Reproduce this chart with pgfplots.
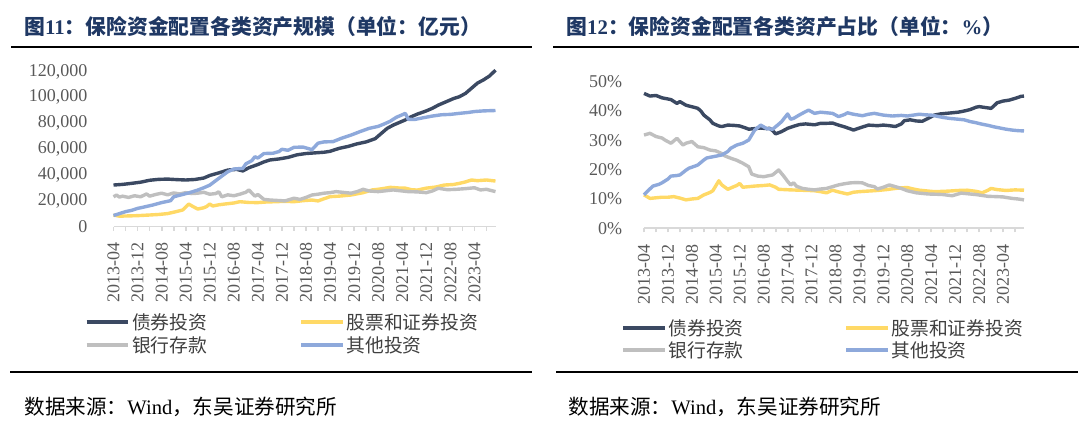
\documentclass[border=0pt]{standalone}
\usepackage{pgfplots}
\pgfplotsset{compat=1.18}
\usepackage{fontspec}
\setmainfont{Liberation Serif}
\newfontfamily\cjk{Noto Sans CJK SC}
\definecolor{cbond}{RGB}{59,73,98}
\definecolor{cstock}{RGB}{255,217,102}
\definecolor{cbank}{RGB}{191,191,191}
\definecolor{cother}{RGB}{142,169,219}
\definecolor{titleblue}{RGB}{31,56,100}
\definecolor{axisgray}{RGB}{217,217,217}
\definecolor{ticktext}{RGB}{89,89,89}
\definecolor{legtext}{RGB}{64,64,64}

\pgfplotsset{
  mystyle/.style={
    anchor=south west, scale only axis, clip=false,
    xmin=0, xmax=127,
    axis x line*=bottom, axis y line*=left,
    axis line style={-, draw=axisgray, line width=0.9pt},
    y axis line style={draw=none},
    xtick={0,8,...,120},
    xticklabels={2013-04,2013-12,2014-08,2015-04,2015-12,2016-08,2017-04,2017-12,2018-08,2019-04,2019-12,2020-08,2021-04,2021-12,2022-08,2023-04},
    minor xtick={4,12,...,124},
    tick align=outside,
    major tick length=2pt, minor tick length=2pt,
    tick style={draw=axisgray, line width=0.9pt},
    ytick style={draw=none},
    /pgf/number format/assume math mode=true,
    tick label style={font=\fontsize{9}{10}\selectfont, text=ticktext},
    xticklabel style={rotate=90, anchor=east, inner sep=0pt},
    yticklabel style={anchor=east, inner sep=0pt},
    xticklabel shift=5.75pt,
    every axis plot/.append style={line width=1.7pt, line join=round, no marks},
  }
}

\begin{document}
\begin{tikzpicture}
\begin{scope}[x=0.5pt,y=-0.5pt]
\useasboundingbox (0,0) rectangle (1080,422);

% ---------- Left panel text ----------
\node[anchor=west, inner sep=0pt, text=titleblue, font=\fontsize{10.4}{12}\selectfont\bfseries] at (24,27)
  {{\cjk\bfseries 图}11{\cjk\bfseries ：保险资金配置各类资产规模（单位：亿元）}};
\draw[line width=1pt] (11,46.7) -- (532,46.7);

\begin{scope}[line width=1.6pt]
\draw[cbond] (86.6,322) -- (128,322);
\draw[cstock] (301,322) -- (343,322);
\draw[cbank] (86.6,345) -- (128,345);
\draw[cother] (301,345) -- (343,345);
\end{scope}
\begin{scope}[every node/.style={anchor=west, inner sep=0pt, text=legtext, font=\fontsize{9.4}{11}\selectfont\cjk}]
\node at (131.6,322) {债券投资};
\node at (346,322) {股票和证券投资};
\node at (131.6,345) {银行存款};
\node at (346,345) {其他投资};
\end{scope}
\draw[line width=1.35pt] (10,372) -- (532,372);
\node[anchor=west, inner sep=0pt, font=\fontsize{10.3}{12}\selectfont] at (24,407)
  {{\cjk 数据来源：}Wind{\cjk ，东吴证券研究所}};

% ---------- Right panel text ----------
\node[anchor=west, inner sep=0pt, text=titleblue, font=\fontsize{10.4}{12}\selectfont\bfseries] at (566,27)
  {{\cjk\bfseries 图}12{\cjk\bfseries ：保险资金配置各类资产占比（单位：}\%{\cjk\bfseries ）}};
\draw[line width=1pt] (553,46.7) -- (1079,46.7);

\begin{scope}[line width=1.6pt]
\draw[cbond] (623,328) -- (665,328);
\draw[cstock] (846,328) -- (888,328);
\draw[cbank] (623,350) -- (665,350);
\draw[cother] (846,350) -- (888,350);
\end{scope}
\begin{scope}[every node/.style={anchor=west, inner sep=0pt, text=legtext, font=\fontsize{9.4}{11}\selectfont\cjk}]
\node at (668,328) {债券投资};
\node at (891,328) {股票和证券投资};
\node at (668,350) {银行存款};
\node at (891,350) {其他投资};
\end{scope}
\draw[line width=1.35pt] (556,372) -- (1078,372);
\node[anchor=west, inner sep=0pt, font=\fontsize{10.3}{12}\selectfont] at (568,407)
  {{\cjk 数据来源：}Wind{\cjk ，东吴证券研究所}};
\end{scope}

% ---------- Left axis ----------
\begin{axis}[mystyle,
  at={(56.75pt,-113.25pt)}, width=191pt, height=80.73pt,
  ymin=0, ymax=125000, ytick={0,20000,...,120000},
  scaled y ticks=false,
  yticklabel style={/pgf/number format/fixed, /pgf/number format/1000 sep={,}},
  yticklabel shift=10.9pt,
]
\addplot[cbond] table {
0 32100
3 32600
6 33400
9 34300
12 35800
15 36500
18 36700
21 36300
24 36000
27 36400
30 37500
32 39500
35 41500
38 43700
41 44200
43 43000
45 45500
48 48000
50 50000
52 51500
55 52300
58 53500
61 55500
64 56500
67 57000
70 57500
72 58200
75 60500
78 62000
81 64000
84 65500
87 68000
89 72000
91 76000
93 78500
95 80500
97 82500
99 85000
101 87000
104 89500
106 91500
108 94000
111 97000
113 99000
115 100500
117 103000
119 107000
121 111000
123 113500
125 116500
127 121000
};
\addplot[cstock] table {
0 8900
2 8000
5 8200
8 8400
12 8900
15 9300
18 10000
21 11600
23 12800
25 17400
26 16000
28 13500
30 14500
31 15500
32 17400
33 15900
35 16800
37 17400
40 18200
42 19200
45 18600
48 18500
51 19000
54 19200
57 19500
60 19200
63 20000
66 20500
68 19800
70 21500
72 23100
75 23500
79 24400
83 26200
86 28300
88 28800
90 29500
92 30300
95 29800
97 29700
99 28500
101 28200
104 29700
107 30500
110 32100
113 32500
115 33400
117 34500
119 36000
121 35500
124 36000
127 35200
};
\addplot[cbank] table {
0 23000
1 24300
2 22800
3 23500
5 22500
7 23800
9 23000
11 25200
12 23500
14 24800
16 25800
18 24500
20 26000
22 25200
24 26200
26 25500
28 25800
30 26500
32 25000
34 25500
35 26900
36 23000
38 24500
40 23800
42 25000
44 26500
45 28300
47 23500
48 24800
50 21000
52 20500
55 20100
57 19800
60 21900
62 21000
64 22500
66 24400
68 25000
70 25800
72 26200
74 27000
76 26500
79 25800
81 27000
83 28800
85 27500
88 27000
91 27800
93 28300
96 27500
98 27000
101 26800
104 26200
106 27500
108 29600
111 28500
114 28800
117 29300
120 30000
122 28300
124 28800
127 27000
};
\addplot[cother] table {
0 8500
2 10000
4 11500
6 12500
8 14000
10 15000
13 16600
16 18500
19 20000
20 23000
22 24200
25 26000
28 28200
30 30000
32 32000
34 35500
36 39000
38 42400
40 44500
43 45000
44 48500
46 51000
47 54000
48 53000
50 56500
53 56700
55 58000
56 59800
58 59000
60 61300
63 61500
66 59500
68 64500
70 65500
73 65700
76 68500
79 70800
82 73500
85 76000
88 77500
90 79400
92 81500
94 84500
96 86500
97 87600
98 83000
100 82800
103 84200
106 85500
109 86500
112 86800
115 87600
118 88300
120 89000
123 89500
127 89800
};
\end{axis}

% ---------- Right axis ----------
\begin{axis}[mystyle,
  at={(322pt,-114.15pt)}, width=190pt, height=73.3pt,
  ymin=0, ymax=50, ytick={0,10,...,50},
  yticklabel={\pgfmathprintnumber{\tick}\%},
  yticklabel shift=8.75pt,
]
\addplot[cbond] table {
0 46.0
2 45.1
4 45.3
6 44.5
7 44.3
9 43.9
11 42.6
12 43.2
14 42.0
15 41.7
17 41.2
18 40.9
19 40.0
20 38.6
22 37.0
23 35.8
25 34.9
26 34.7
28 35.2
30 35.1
32 34.9
34 34.2
35 33.8
37 34.0
39 34.2
41 34.0
42 34.1
43 33.3
44 32.2
46 33.0
48 34.1
50 34.8
52 35.4
54 35.6
57 35.3
59 35.8
61 35.8
63 35.9
65 35.2
67 34.6
69 33.9
70 33.5
72 34.2
75 35.2
78 35.0
80 35.2
82 35.0
84 34.7
86 35.6
87 36.7
89 37.0
91 36.6
93 36.5
95 37.5
97 38.6
99 39.0
101 39.2
103 39.4
105 39.6
107 40.0
109 40.5
111 41.3
112 41.5
114 41.2
116 40.9
117 41.8
118 42.8
120 43.4
122 43.7
124 44.3
126 45.0
127 45.1
};
\addplot[cstock] table {
0 11.4
2 10.2
4 10.4
6 10.6
8 10.6
10 10.8
12 10.3
14 9.7
16 10.0
18 10.2
20 11.4
22 12.2
23 12.8
25 16.2
26 14.8
28 13.3
30 14.2
31 14.6
32 15.3
33 14.0
35 14.2
37 14.4
40 14.6
42 14.8
44 14.0
45 13.3
47 13.2
49 13.1
52 13.0
55 12.9
57 12.8
59 12.5
61 12.1
63 13.0
65 12.4
68 11.7
70 12.3
72 12.5
75 12.7
78 12.9
81 13.2
84 13.6
86 13.8
88 13.9
90 13.4
92 13.0
95 12.7
97 12.5
100 12.6
102 12.7
105 12.9
108 13.0
111 12.6
113 12.1
115 13.0
116 13.6
118 13.2
121 12.9
124 13.1
127 13.0
};
\addplot[cbank] table {
0 31.8
2 32.4
4 31.3
6 30.8
7 30.1
9 29.0
11 30.7
13 28.4
14 29.0
16 29.6
18 27.8
20 27.5
22 26.7
24 26.4
26 25.5
27 24.7
29 23.9
31 23.2
33 22.2
35 21.0
36 18.5
38 17.8
40 17.6
42 18.0
43 18.2
45 19.9
47 17.4
48 16.0
49 14.8
50 15.5
51 14.3
53 13.6
55 13.3
57 13.1
59 13.4
61 13.6
63 14.2
65 14.8
67 15.2
69 15.5
71 15.6
73 15.5
75 14.6
77 14.2
78 13.4
80 14.0
82 14.8
84 14.2
86 13.6
88 12.8
91 12.1
93 11.9
95 11.7
98 11.6
100 11.5
103 11.1
106 12.0
108 11.8
111 11.5
113 11.2
115 10.9
118 10.8
120 10.7
123 10.2
125 10.0
127 9.7
};
\addplot[cother] table {
0 11.4
1 12.5
3 14.4
5 15.0
6 15.5
8 16.8
9 17.8
11 18.0
12 18.2
14 19.8
15 20.5
17 21.2
18 21.6
20 23.3
21 24.0
23 24.4
26 25.0
28 26.2
29 27.3
31 28.4
33 29.0
35 30.1
36 31.8
37 33.5
39 35.2
41 34.0
43 33.8
45 35.5
46 36.4
48 39.0
49 37.2
50 37.5
52 38.7
54 39.8
55 40.3
57 39.2
59 39.6
61 39.4
63 39.2
65 38.1
67 38.8
68 39.4
70 38.9
73 38.4
75 38.9
77 39.2
80 38.6
83 38.3
86 38.5
88 38.3
90 38.6
92 38.9
94 38.7
96 38.6
98 38.2
100 37.8
102 37.5
105 37.2
107 37.0
109 36.4
111 36.0
113 35.5
115 35.1
117 34.6
119 34.2
121 33.8
123 33.5
125 33.3
127 33.2
};
\end{axis}
\end{tikzpicture}
\end{document}
